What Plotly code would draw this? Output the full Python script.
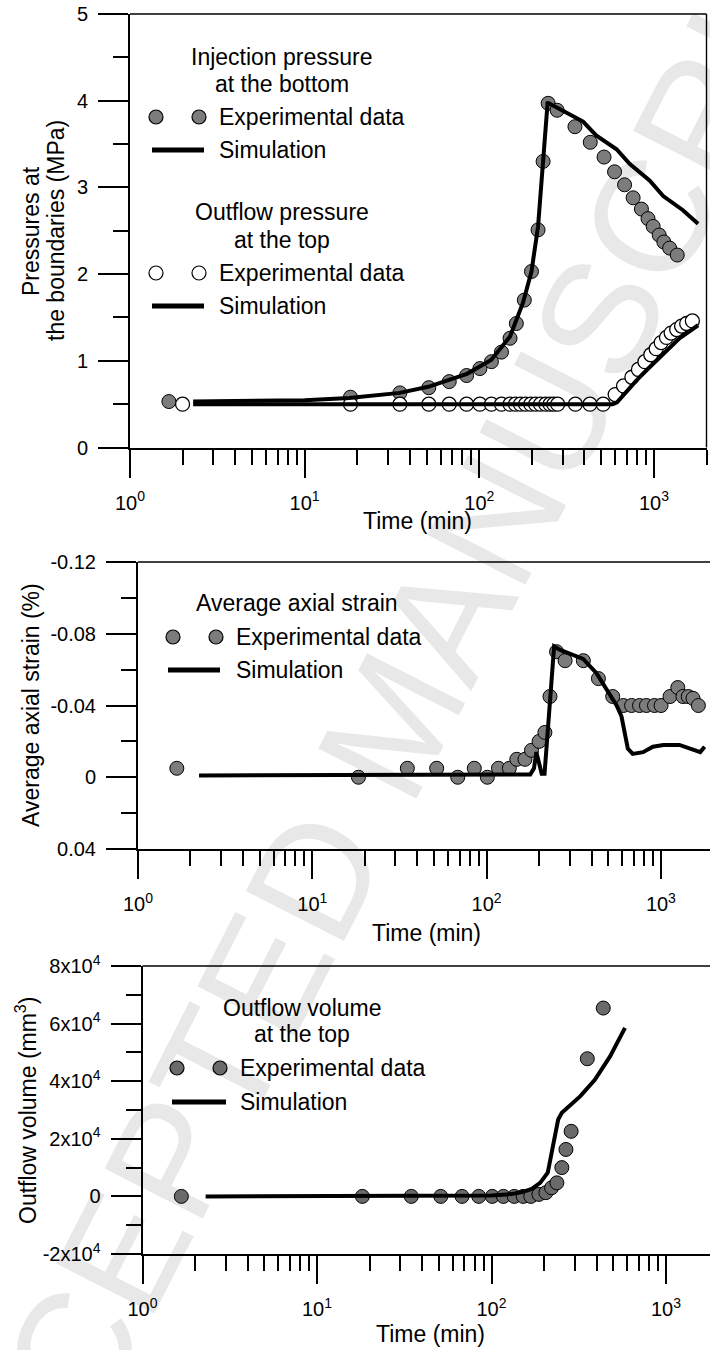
import math
import plotly.graph_objects as go

# ---------------- data ----------------
# Panel 1: pressures at the boundaries (MPa) vs time (min)
inj_exp_t = [1.67, 18.3, 35.1, 51.4, 67.3, 84.6, 100.8, 117.4, 134, 150, 163, 181, 199, 217, 232, 248,
             279, 353, 432, 518, 595, 679, 760, 848, 925, 990, 1072, 1140, 1230, 1360]
inj_exp_p = [0.53, 0.58, 0.63, 0.69, 0.76, 0.83, 0.91, 0.99, 1.10, 1.26, 1.43, 1.70, 2.03, 2.51, 3.30, 3.97,
             3.89, 3.70, 3.52, 3.35, 3.18, 3.03, 2.88, 2.75, 2.64, 2.55, 2.45, 2.37, 2.30, 2.22]
inj_sim_t = [2.3, 5, 10, 18, 35, 51, 85, 117, 150, 178, 199, 217, 232, 240, 246, 250, 300, 393, 467, 611,
             728, 944, 1130, 1460, 1790]
inj_sim_p = [0.53, 0.535, 0.545, 0.57, 0.63, 0.70, 0.85, 1.01, 1.28, 1.67, 2.03, 2.55, 3.24, 3.70, 3.97, 3.97,
             3.88, 3.76, 3.60, 3.44, 3.27, 3.08, 2.90, 2.74, 2.58]
out_exp_t = [2.0, 18.3, 35.1, 51.4, 67.3, 84.6, 100.8, 117.4, 134, 150, 161, 172, 184, 197, 210, 224, 240,
             254, 267, 281, 355, 430, 512, 600, 670, 748, 815, 888, 960, 1030, 1100, 1180, 1255, 1350, 1440,
             1540, 1660]
out_exp_p = [0.50, 0.50, 0.50, 0.50, 0.50, 0.50, 0.50, 0.50, 0.50, 0.50, 0.50, 0.50, 0.50, 0.50, 0.50, 0.50,
             0.50, 0.50, 0.50, 0.50, 0.50, 0.50, 0.50, 0.61, 0.71, 0.81, 0.90, 0.99, 1.07, 1.14, 1.21, 1.27,
             1.32, 1.36, 1.40, 1.43, 1.46]
out_sim_t = [2.3, 50, 200, 580, 615, 700, 800, 916, 1130, 1400, 1790]
out_sim_p = [0.50, 0.50, 0.50, 0.50, 0.52, 0.65, 0.78, 0.90, 1.08, 1.26, 1.41]

# Panel 2: average axial strain (%)
ax_exp_t = [1.67, 18.4, 35.1, 51.7, 68.3, 85, 101, 117, 135, 149, 166, 181, 200, 216, 231, 252, 282, 359,
            438, 529, 609, 679, 754, 826, 919, 1002, 1128, 1250, 1338, 1435, 1528, 1641]
ax_exp_v = [-0.005, 0, -0.005, -0.005, 0, -0.005, 0, -0.005, -0.005, -0.01, -0.01, -0.015, -0.02, -0.025,
            -0.045, -0.07, -0.065, -0.065, -0.055, -0.045, -0.04, -0.04, -0.04, -0.04, -0.04, -0.04, -0.045,
            -0.05, -0.045, -0.045, -0.044, -0.04]
ax_sim_t = [2.24, 50, 150, 178, 187, 193, 200, 207, 215, 222, 232, 244, 264, 300, 358, 427, 488, 557, 594,
            620, 646, 689, 790, 900, 1034, 1278, 1466, 1681, 1782]
ax_sim_v = [-0.001, -0.001, -0.001, -0.0015, -0.005, -0.014, -0.008, -0.002, -0.002, -0.02, -0.05, -0.073,
            -0.071, -0.069, -0.066, -0.058, -0.049, -0.040, -0.034, -0.024, -0.016, -0.013, -0.014, -0.017,
            -0.018, -0.018, -0.016, -0.014, -0.017]

# Panel 3: outflow volume (mm3)
vol_exp_t = [1.67, 18.2, 34.7, 51.2, 67.8, 84.5, 101, 117, 135, 152, 168, 187, 205, 221, 237, 253, 267, 286,
             354, 437]
vol_exp_v = [0, 0, 0, 0, 0, 0, 0, 0, 0, 0, 0, 700, 1300, 3000, 4700, 10000, 16300, 22600, 47800, 65400]
vol_sim_t = [2.3, 60, 100, 130, 150, 170, 190, 210, 216, 222, 231, 241, 253, 323, 391, 478, 582]
vol_sim_v = [0, 0, 300, 800, 1500, 2600, 4700, 8200, 12000, 14500, 19800, 26700, 29000, 34800, 40500, 48600,
             58500]

# tick labels
x_major = [1, 10, 100, 1000]
x_major_text = ["10<sup>0</sup>", "10<sup>1</sup>", "10<sup>2</sup>", "10<sup>3</sup>"]
x_minor = [m * d for d in (1, 10, 100) for m in range(2, 10)] + [2000]
p_major = [0, 1, 2, 3, 4, 5]
p_minor = [0.5, 1.5, 2.5, 3.5, 4.5]
s_major = [-0.12, -0.08, -0.04, 0, 0.04]
s_major_text = ["-0.12", "-0.08", "-0.04", "0", "0.04"]
s_minor = [-0.10, -0.06, -0.02, 0.02]
v_major = [-20000, 0, 20000, 40000, 60000, 80000]
v_major_text = ["-2x10<sup>4</sup>", "0", "2x10<sup>4</sup>", "4x10<sup>4</sup>", "6x10<sup>4</sup>",
                "8x10<sup>4</sup>"]
v_minor = [-10000, 10000, 30000, 50000, 70000]

# ---------------- layout helpers ----------------
W, H = 710, 1350
FONT = "Liberation Sans, Arial, Helvetica, sans-serif"
GRAY = "#7c7c7c"
GRAY3 = "#6a6a6a"
TICK_SIZE = 20


def PX(x):
    return x / W


def PY(y):
    return 1 - y / H


fig = go.Figure()

mk_gray = dict(size=14, color=GRAY, line=dict(color="black", width=1))
mk_open = dict(size=14, color="white", line=dict(color="black", width=1.3))
ln = dict(color="black", width=4)

fig.add_trace(go.Scatter(x=inj_exp_t, y=inj_exp_p, mode="markers", marker=mk_gray, xaxis="x", yaxis="y"))
fig.add_trace(go.Scatter(x=out_exp_t, y=out_exp_p, mode="markers", marker=mk_open, xaxis="x", yaxis="y"))
fig.add_trace(go.Scatter(x=inj_sim_t, y=inj_sim_p, mode="lines", line=ln, xaxis="x", yaxis="y"))
fig.add_trace(go.Scatter(x=out_sim_t, y=out_sim_p, mode="lines", line=ln, xaxis="x", yaxis="y"))

fig.add_trace(go.Scatter(x=ax_exp_t, y=ax_exp_v, mode="markers", marker=mk_gray, xaxis="x2", yaxis="y2"))
fig.add_trace(go.Scatter(x=ax_sim_t, y=ax_sim_v, mode="lines", line=ln, xaxis="x2", yaxis="y2"))

fig.add_trace(go.Scatter(x=vol_exp_t, y=vol_exp_v, mode="markers",
                         marker=dict(size=14, color=GRAY3, line=dict(color="black", width=1)),
                         xaxis="x3", yaxis="y3"))
fig.add_trace(go.Scatter(x=vol_sim_t, y=vol_sim_v, mode="lines", line=ln, xaxis="x3", yaxis="y3"))


def xax(left, right, rng, anchor):
    return dict(type="log", domain=[PX(left), PX(right)], range=rng, anchor=anchor, automargin=False,
                showline=True, linecolor="black", linewidth=2, ticks="outside", ticklen=28, tickwidth=2,
                tickcolor="black", tickmode="array", tickvals=x_major, ticktext=x_major_text,
                minor=dict(tickmode="array", tickvals=x_minor, ticks="outside", ticklen=15, tickwidth=2,
                           tickcolor="black"),
                showgrid=False, zeroline=False, tickfont=dict(size=TICK_SIZE, color="black", family=FONT),
                ticklabelstandoff=8)


def yax(top, bottom, rng, anchor, vals, text, minor_vals):
    return dict(domain=[PY(bottom), PY(top)], range=rng, anchor=anchor, automargin=False,
                showline=True, linecolor="black", linewidth=2, ticks="outside", ticklen=30, tickwidth=2,
                tickcolor="black", tickmode="array", tickvals=vals, ticktext=text,
                minor=dict(tickmode="array", tickvals=minor_vals, ticks="outside", ticklen=15, tickwidth=2,
                           tickcolor="black"),
                showgrid=False, zeroline=False, tickfont=dict(size=TICK_SIZE, color="black", family=FONT),
                ticklabelstandoff=6)


fig.update_layout(
    template="none",
    width=W, height=H, margin=dict(l=0, r=0, t=0, b=0, pad=0, autoexpand=False),
    paper_bgcolor="white", plot_bgcolor="rgba(0,0,0,0)",
    showlegend=False, font=dict(family=FONT, size=23, color="black"),
    xaxis=xax(130, 706.5, [0, math.log10(2000)], "y"),
    yaxis=yax(14, 447.5, [0, 5], "x", p_major, [str(v) for v in p_major], p_minor),
    xaxis2=xax(138, 710, [0, (710 - 138) / 174.3], "y2"),
    yaxis2=yax(562, 849, [0.04, -0.12], "x2", s_major, s_major_text, s_minor),
    xaxis3=xax(142.5, 710, [0, (710 - 142.5) / 174.5], "y3"),
    yaxis3=yax(966, 1254, [-20000, 80000], "x3", v_major, v_major_text, v_minor),
)

shapes = []
# frame lines (top / right)
for xr, yr, right in (("x", "y", True), ("x2", "y2", False), ("x3", "y3", False)):
    shapes.append(dict(type="line", xref=xr + " domain", yref=yr + " domain", x0=0, x1=1, y0=1, y1=1,
                       line=dict(color="black", width=1.4)))
    if right:
        shapes.append(dict(type="line", xref=xr + " domain", yref=yr + " domain", x0=1, x1=1, y0=0, y1=1,
                           line=dict(color="black", width=1.4)))

# watermark
cx, cy, ang = 380, 715, 63
dx, dy = math.cos(math.radians(ang)) * 200, math.sin(math.radians(ang)) * 200
shapes.append(dict(type="line", xref="paper", yref="paper", x0=PX(cx - dx), y0=PY(cy + dy),
                   x1=PX(cx + dx), y1=PY(cy - dy), layer="below",
                   line=dict(color="rgba(0,0,0,0)", width=1),
                   label=dict(text="ACCEPTED MANUSCRIPT", textangle=-ang, textposition="middle",
                              xanchor="center", yanchor="middle",
                              font=dict(size=160, color="#e8e8e8", family=FONT))))


def circ(x, y, fill, r=7):
    return dict(type="circle", xref="paper", yref="paper", xsizemode="pixel", ysizemode="pixel",
                xanchor=PX(x), yanchor=PY(y), x0=-r, x1=r, y0=-r, y1=r, fillcolor=fill,
                line=dict(color="black", width=1.2))


def seg(x0, x1, y):
    return dict(type="line", xref="paper", yref="paper", x0=PX(x0), x1=PX(x1), y0=PY(y), y1=PY(y),
                line=dict(color="black", width=5))


# legend glyphs
shapes += [circ(156, 117, GRAY), circ(199, 117, GRAY), seg(152, 204, 150),
           circ(156, 273, "white"), circ(199, 273, "white"), seg(152, 204, 306),
           circ(173, 637, GRAY), circ(216, 637, GRAY), seg(168, 220, 670),
           circ(177, 1068, GRAY3), circ(220, 1068, GRAY3), seg(172, 226, 1102)]
fig.update_layout(shapes=shapes)

ann = []


def txt(x, y, s, xanchor="left", angle=0, size=23):
    ann.append(dict(x=PX(x), y=PY(y), xref="paper", yref="paper", text=s, showarrow=False,
                    xanchor=xanchor, yanchor="middle", textangle=angle,
                    font=dict(size=size, color="black", family=FONT)))


# legend texts
txt(282, 57, "Injection pressure", "center")
txt(282, 84, "at the bottom", "center")
txt(217, 117, "Experimental data")
txt(217, 150, "Simulation")
txt(282, 212, "Outflow pressure", "center")
txt(282, 240, "at the top", "center")
txt(217, 273, "Experimental data")
txt(217, 306, "Simulation")
txt(297, 603, "Average axial strain", "center")
txt(234, 637, "Experimental data")
txt(234, 670, "Simulation")
txt(302, 1008, "Outflow volume", "center")
txt(302, 1034, "at the top", "center")
txt(238, 1068, "Experimental data")
txt(238, 1102, "Simulation")

# axis titles
txt(417, 521, "Time (min)", "center")
txt(426, 933, "Time (min)", "center")
txt(430, 1334, "Time (min)", "center")
txt(31, 231, "Pressures at", "center", -90)
txt(56, 231, "the boundaries (MPa)", "center", -90)
txt(31, 705, "Average axial strain (%)", "center", -90)
txt(26, 1110, "Outflow volume (mm<sup>3</sup>)", "center", -90)

fig.update_layout(annotations=ann)

# remove the default page margin so the 710x1350 figure fills the window exactly
fig.write_html("out.html", config={"displayModeBar": False},
               post_script="document.body.style.margin='0';document.body.style.overflow='hidden';")
